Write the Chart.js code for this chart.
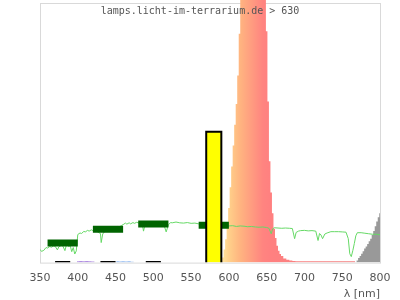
<!DOCTYPE html>
<html>
<head>
<meta charset="utf-8">
<script src="https://cdn.jsdelivr.net/npm/chart.js@4.4.0/dist/chart.umd.min.js"></script>
<style>
    html, body { margin: 0; padding: 0; background: #fff; }
    #wrap { width: 400px; height: 300px; }
</style>
</head>
<body>
<div id="wrap"><canvas id="spectrum" width="400" height="300"></canvas></div>
<script>
/* globals Chart:false */
var TITLE = "lamps.licht-im-terrarium.de > 630";
var AXIS_LABEL = "λ [nm]";
var X_TICKS = [350, 400, 450, 500, 550, 600, 650, 700, 750, 800];

// lamp emission (relative), clipped at the top of the plot
var emissionNm = [350, 398, 400, 404, 408, 412, 416, 420, 424, 450, 452, 456, 460, 464, 468, 472, 476,
    588, 590, 592, 594, 596, 598, 600, 602, 604, 606, 608, 610, 612, 614, 616, 620, 624, 628, 632,
    636, 640, 644, 648, 650, 652, 654, 656, 658, 660, 662, 664, 666, 668, 670, 674, 678, 682, 686,
    690, 700, 720, 740, 760, 766, 768];
var emissionValue = [0, 0, 0.5, 0.6, 0.5, 0.6, 0.5, 0.4, 0, 0, 0.5, 0.4, 0.5, 0.4, 0.5, 0.3, 0,
    0, 0.5, 2, 5, 9, 14, 21, 29, 37, 45, 53, 61, 72, 88, 104, 118, 130, 138, 142,
    140, 134, 124, 108, 89, 62, 39, 27, 19, 13, 9.5, 6.5, 4.6, 3.3, 2.5, 1.6, 1.1, 0.8, 0.6,
    0.5, 0.5, 0.5, 0.5, 0.5, 0.5, 0];

// infrared part
var infraredNm = [768, 770, 772, 774, 776, 778, 780, 782, 784, 786, 788, 790, 792, 794, 796, 798, 800];
var infraredValue = [0, 0.8, 1.8, 2.5, 3.4, 4.4, 5.4, 6.2, 7.2, 8.2, 9.2, 10.6, 12.2, 14, 15.8, 17.4, 19];

// transmission curve (thin green line)
var transNm = [350, 352, 355, 358, 360, 363, 365, 368, 370, 373, 375, 378, 380, 383, 385, 388, 390, 392,
    394, 396, 398, 400, 403, 405, 408, 410, 413, 415, 418, 420, 423, 425, 428, 430, 431, 433, 435, 438,
    440, 443, 445, 448, 450, 453, 455, 458, 460, 463, 465, 468, 470, 473, 475, 478, 480, 483, 485, 487,
    489, 492, 495, 500, 505, 510, 514, 517, 520, 523, 525, 530, 535, 540, 545, 550, 555, 560, 570, 580,
    590, 600, 605, 610, 615, 620, 625, 630, 635, 640, 645, 650, 653, 656, 658, 660, 665, 670, 675, 680,
    684, 687, 689, 692, 695, 700, 705, 710, 715, 718, 720, 722, 724, 727, 730, 735, 740, 745, 750, 755,
    758, 760, 762, 764, 766, 768, 770, 775, 780, 785, 790, 795, 800];
var transValue = [5.1, 4.3, 4.7, 5.8, 5.6, 6.2, 5.9, 6.4, 6.3, 4.9, 6.1, 6.6, 6.5, 4.6, 6.9, 6.2, 6.5, 4.2,
    5.8, 3.3, 4.5, 10.8, 11.4, 11.2, 12.0, 11.8, 12.4, 12.1, 12.6, 12.3, 12.5, 12.1, 11.5, 11.2, 7.7, 11.0, 11.8, 12.2,
    12.3, 12.8, 12.6, 13.2, 13.4, 13.9, 13.7, 14.3, 14.6, 15.2, 14.8, 15.3, 14.9, 15.4, 15.1, 15.5, 15.3, 15.2, 15.4, 12.1,
    14.6, 14.9, 14.7, 14.6, 14.8, 14.6, 14.5, 11.8, 14.6, 15.4, 15.3, 15.6, 15.3, 15.2, 15.4, 15.1, 15.2, 14.9, 14.7, 14.5,
    14.3, 14.1, 14.2, 13.9, 14.1, 14.0, 13.8, 13.9, 13.7, 13.6, 13.7, 13.5, 13.2, 11.1, 13.0, 13.4, 13.3, 13.2, 13.3, 13.2,
    13.1, 9.2, 11.6, 12.1, 12.3, 12.4, 12.2, 12.3, 12.1, 8.5, 11.2, 10.6, 9.2, 11.0, 11.4, 11.9, 11.9, 11.9, 11.8, 11.7,
    9.2, 3.4, 2.3, 4.6, 7.3, 10.3, 11.5, 11.5, 11.3, 11.1, 10.9, 10.9, 10.7];

// band averages (dark green bars)
var bandFrom = [360, 420, 480, 560];
var bandTo = [400, 460, 520, 600];
var bandValue = [7.5, 12.8, 14.8, 14.4];

// small black markers on the baseline
var markFrom = [370, 430, 490];
var markTo = [390, 450, 510];
var markValue = [0.3, 0.3, 0.3];

// yellow block
var yellowBand = [570, 590];
var yellowValue = 50.3;

// fill colours of the emission by wavelength
var spectrumStops = [
    [400, "#b18fe2"], [428, "#b18fe2"], [446, "#8fb8f0"], [480, "#8fb8f0"],
    [575, "#fff0a8"], [590, "#ffe6a0"], [600, "#ffd08a"], [615, "#ffb480"],
    [630, "#ff9c80"], [645, "#ff8480"], [655, "#ff8080"], [720, "#f68080"], [800, "#f08080"]
];

(function () {
    var $canvas = document.getElementById("spectrum");

    function toPoints(xs, ys) {
        return xs.map((x, idx) => ({ x: x, y: ys[idx] }));
    }

    function toSegments(from, to, values) {
        return from.reduce((memo, start, idx) => {
            memo.push({ x: start, y: values[idx] });
            memo.push({ x: to[idx], y: values[idx] });
            memo.push({ x: to[idx], y: null });
            return memo;
        }, []);
    }

    function spectrumFill(ctx) {
        var chart = ctx.chart;
        if (!chart.chartArea) {
            return "#ff9c80";
        }
        var xScale = chart.scales.x;
        var x0 = xScale.getPixelForValue(350),
            x1 = xScale.getPixelForValue(800);
        var gradient = chart.ctx.createLinearGradient(x0, 0, x1, 0);
        spectrumStops.forEach(stop => {
            gradient.addColorStop((stop[0] - 350) / 450, stop[1]);
        });
        return gradient;
    }

    var frame = {
        id: "frame",
        beforeDatasetsDraw: function (chart) {
            var area = chart.chartArea, c = chart.ctx;
            c.save();
            c.strokeStyle = "#d9d9d9";
            c.lineWidth = 1;
            c.strokeRect(area.left + 0.5, area.top + 3.5, area.right - area.left, area.bottom - area.top - 3);
            c.restore();
        },
        afterDatasetsDraw: function (chart) {
            var c = chart.ctx;
            c.save();
            c.font = "10px 'DejaVu Sans Mono'";
            c.fillStyle = "#555";
            c.textAlign = "center";
            c.textBaseline = "middle";
            c.fillText(TITLE, chart.width / 2, 11);
            c.restore();
        }
    };

    var yellowPoints = toPoints(
        [yellowBand[0], yellowBand[0], yellowBand[1], yellowBand[1]],
        [0, yellowValue, yellowValue, 0]
    );

    new Chart($canvas, {
        type: "line",
        data: {
            datasets: [{
                label: "yellow",
                data: yellowPoints,
                order: 0,
                borderColor: "#000",
                borderWidth: 2,
                backgroundColor: "#ffff00",
                fill: "origin"
            }, {
                label: "bands",
                data: toSegments(bandFrom, bandTo, bandValue),
                order: 1,
                borderColor: "#006400",
                borderWidth: 7,
                borderCapStyle: "butt",
                fill: false
            }, {
                label: "transmission",
                data: toPoints(transNm, transValue),
                order: 2,
                borderColor: "#66d966",
                borderWidth: 1,
                fill: false
            }, {
                label: "marks",
                data: toSegments(markFrom, markTo, markValue),
                order: 3,
                borderColor: "#000",
                borderWidth: 1.5,
                fill: false
            }, {
                label: "infrared",
                data: toPoints(infraredNm, infraredValue),
                order: 4,
                borderWidth: 0,
                borderColor: "rgba(0,0,0,0)",
                backgroundColor: "#999999",
                stepped: "middle",
                fill: "origin"
            }, {
                label: "emission",
                data: toPoints(emissionNm, emissionValue),
                order: 5,
                borderWidth: 0,
                borderColor: "rgba(0,0,0,0)",
                backgroundColor: spectrumFill,
                stepped: "middle",
                fill: "origin"
            }]
        },
        options: {
            responsive: false,
            animation: false,
            devicePixelRatio: 1,
            layout: {
                padding: { left: 40, right: 20, top: 0, bottom: -1 }
            },
            elements: {
                point: { radius: 0 },
                line: { tension: 0 }
            },
            plugins: {
                legend: { display: false },
                tooltip: { enabled: false },
                title: { display: false }
            },
            scales: {
                x: {
                    type: "linear",
                    min: 350,
                    max: 800,
                    afterBuildTicks: function (axis) {
                        axis.ticks = X_TICKS.map(v => ({ value: v }));
                    },
                    grid: { display: false, drawTicks: false },
                    border: { display: false },
                    ticks: {
                        padding: 9,
                        color: "#555",
                        maxRotation: 0,
                        font: { family: "'DejaVu Sans'", size: 11 }
                    },
                    title: {
                        display: true,
                        text: AXIS_LABEL,
                        align: "end",
                        color: "#555",
                        padding: { top: -6, bottom: 0 },
                        font: { family: "'DejaVu Sans'", size: 11 }
                    }
                },
                y: {
                    display: false,
                    min: 0,
                    max: 101
                }
            }
        },
        plugins: [frame]
    });
})();
</script>
</body>
</html>
